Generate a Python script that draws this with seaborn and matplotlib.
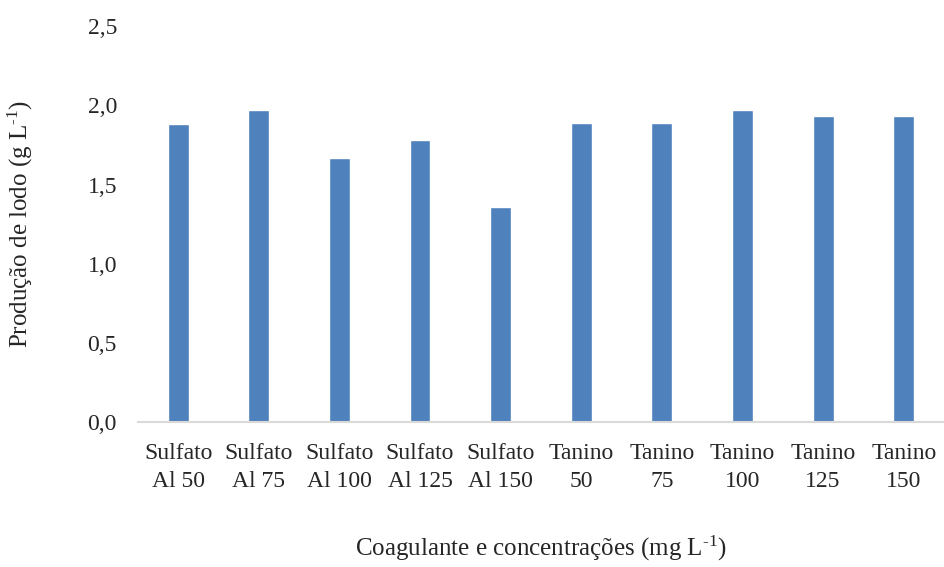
import seaborn as sns
import matplotlib.pyplot as plt
import pandas as pd

# data
categories = ["Sulfato\nAl 50", "Sulfato\nAl 75", "Sulfato\nAl 100", "Sulfato\nAl 125", "Sulfato\nAl 150",
              "Tanino\n50", "Tanino\n75", "Tanino\n100", "Tanino\n125", "Tanino\n150"]
lodo = [1.88, 1.97, 1.67, 1.78, 1.36, 1.89, 1.89, 1.97, 1.93, 1.93]

sns.set_style("white")
plt.rcParams['font.family'] = ['Liberation Serif', 'DejaVu Serif']
plt.rcParams['mathtext.fontset'] = 'custom'
plt.rcParams['mathtext.rm'] = 'Liberation Serif'
plt.rcParams['mathtext.default'] = 'regular'

df = pd.DataFrame({'coag': categories, 'lodo': lodo})

fig = plt.figure(figsize=(9.44, 5.67), dpi=100)
ax = fig.add_axes([0.146, 0.2557, 0.854, 0.698])

sns.barplot(data=df, x='coag', y='lodo', color='#4f81bd', width=0.26, saturation=1, ax=ax)

ax.set_ylim(0, 2.5)
ax.set_xlim(-0.5, 9.5)
ax.set_yticks([0, 0.5, 1.0, 1.5, 2.0, 2.5])
ax.set_yticklabels(['0,0', '0,5', '1,0', '1,5', '2,0', '2,5'])
ax.tick_params(axis='both', length=0, labelsize=17)
ax.tick_params(axis='x', pad=15)
ax.tick_params(axis='y', pad=15)
plt.setp(ax.get_xticklabels(), linespacing=1.45)

for s in ['top', 'right', 'left']:
    ax.spines[s].set_visible(False)
ax.spines['bottom'].set_color('#d9d9d9')
ax.spines['bottom'].set_linewidth(1.5)

ax.set_xlabel(r'Coagulante e concentrações (mg L$^{\text{-}1}$)', fontsize=18, labelpad=30)
ax.set_ylabel(r'Produção de lodo (g L$^{\text{-}1}$)', fontsize=18, labelpad=38)

fig.savefig('out.png', dpi=100)
